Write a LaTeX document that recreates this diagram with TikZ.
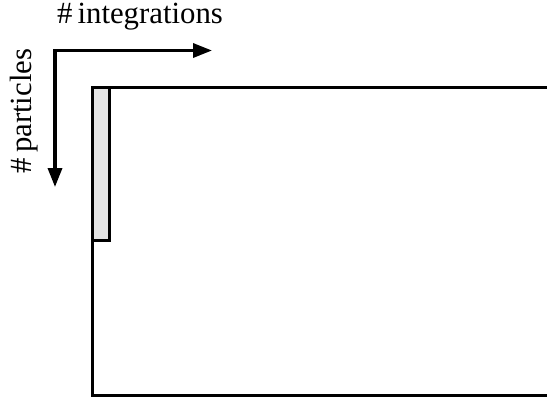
\documentclass[tikz,border=0pt]{standalone}
\usepackage{fontspec}
\setmainfont{Liberation Serif}
\usepackage{tikz}
\usetikzlibrary{arrows.meta,positioning}
\definecolor{blockfill}{HTML}{E4E4E4}

\begin{document}
\begin{tikzpicture}[x=0.5pt,y=-0.5pt,>={Triangle[length=9.5pt,width=7pt]},line width=1.7pt]
\tikzstyle{label}=[font=\fontsize{15.4}{18}\selectfont, inner sep=0pt]
\tikzstyle{block}=[draw, fill=blockfill, inner sep=0pt, minimum width=8.3pt, minimum height=76.5pt, anchor=north west]
\useasboundingbox (0,0) rectangle (547,398);
% the whole matrix, open to the right
\node[draw, inner sep=0pt, anchor=north west, minimum width=240pt, minimum height=154pt] (matrix) at (91,86) {};
\node[block] (slab) at (matrix.north west) {};
% axes
\coordinate (origin) at (55,50.5);
\coordinate (xend) at (212,50.5);
\coordinate (yend) at (55,187);
\draw[->, line cap=rect] (origin) -- (xend);
\draw[->] (origin) -- (yend);
\node[label] (xlabel) at (140,17) {\#\,integrations};
\node[label, rotate=90] (ylabel) at (24,111) {\#\,particles};
\end{tikzpicture}
\end{document}
